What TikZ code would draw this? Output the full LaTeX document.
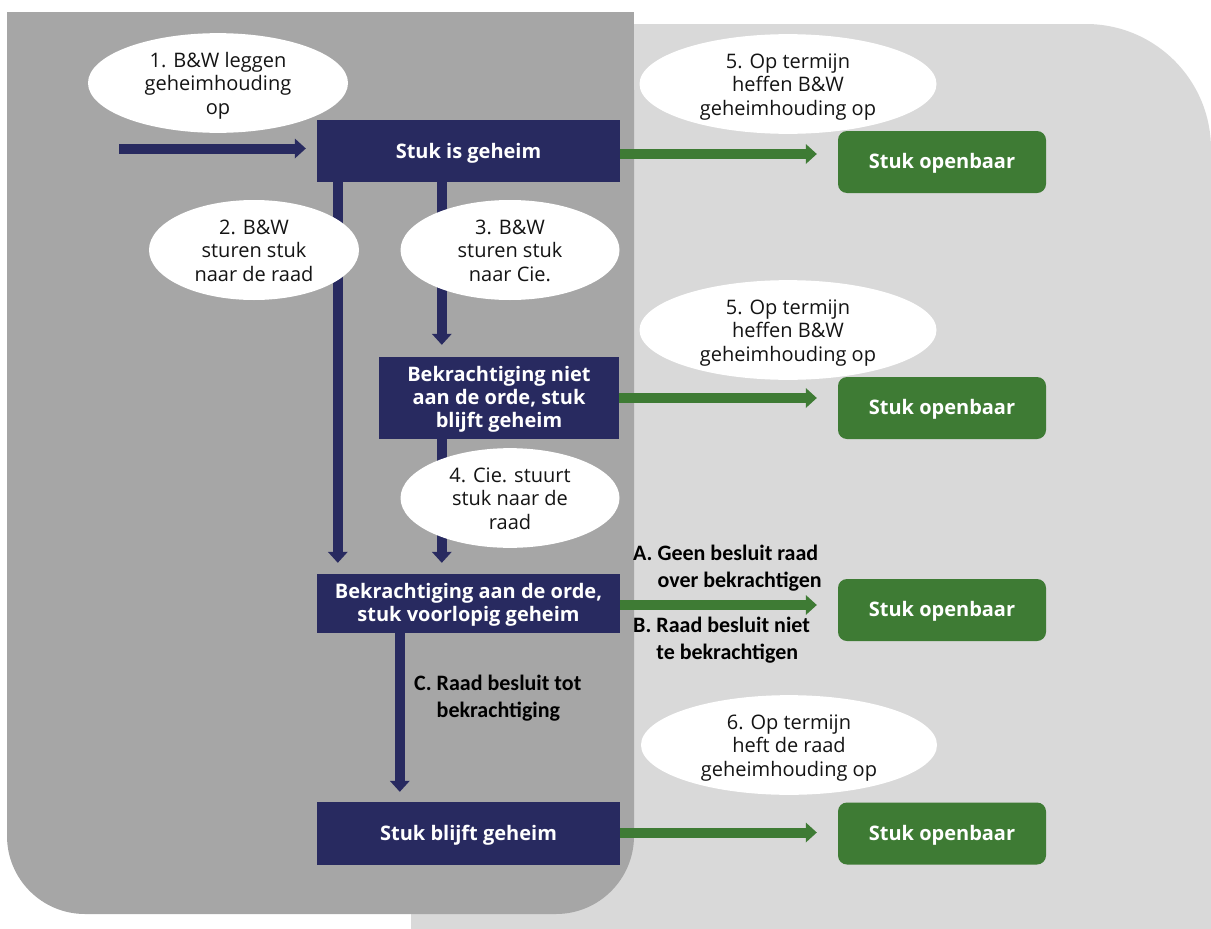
\documentclass[tikz,border=0pt]{standalone}
\usepackage{fontspec}
\setmainfont{Open Sans}
\newfontfamily\lblfont{Carlito}
\usetikzlibrary{shapes.geometric,arrows.meta,calc}
\definecolor{navy}{RGB}{40,42,96}
\definecolor{grn}{RGB}{62,123,52}
\definecolor{dgray}{RGB}{166,166,166}
\definecolor{lgray}{RGB}{217,217,217}
\definecolor{txt}{RGB}{20,20,20}
\newcommand\mltext[2][3pt]{\raisebox{-#1}[\height][\depth]{\begin{tabular}{@{}c@{}}#2\end{tabular}}}
\begin{document}
\begin{tikzpicture}[x=1pt,y=-1pt,
 navybox/.style={fill=navy, text=white, font=\bfseries\fontsize{20}{23}\selectfont, inner sep=0pt, minimum width=303pt},
 greenbox/.style={fill=grn, text=white, rounded corners=9pt, font=\bfseries\fontsize{20}{23}\selectfont, minimum width=208pt, minimum height=62pt, inner sep=0pt},
 bubble/.style={ellipse, fill=white, text=txt, inner sep=0pt, font=\fontsize{20}{23.5}\selectfont},
 narrow/.style={line width=10pt, draw=navy, -{Triangle[width=20pt,length=11pt,line width=0pt]}},
 garrow/.style={line width=10pt, draw=grn, -{Triangle[width=20pt,length=11pt,line width=0pt]}},
 lbl/.style={anchor=base west, inner sep=0pt, text=black, font=\lblfont\bfseries\fontsize{22}{27}\selectfont}
]
\useasboundingbox (0,0) rectangle (1211,929);
\begin{scope}
\clip (0,0) rectangle (1211,929);
\fill[lgray, rounded corners=125pt] (411,24) rectangle (1211,1150);
\fill[dgray, rounded corners=78pt] (7,12) rectangle (634,914);
\fill[dgray] (7,12) rectangle (634,300);
\end{scope}

% boxes
\node[navybox, minimum height=62pt] (s1) at (468.5,151) {\mltext[2.5pt]{Stuk is geheim}};
\node[navybox, minimum width=240pt, minimum height=82pt] (s2) at (499,398) {\mltext[2pt]{Bekrachtiging niet\\aan de orde, stuk\\blijft geheim}};
\node[navybox, minimum height=59pt] (s3) at (468.5,603.5) {\mltext[2pt]{Bekrachtiging aan de orde,\\stuk voorlopig geheim}};
\node[navybox, minimum height=63pt] (s4) at (468.5,833.5) {\mltext[2.5pt]{Stuk blijft geheim}};

\node[greenbox] (g1) at (942,162) {\mltext[2pt]{Stuk openbaar}};
\node[greenbox] (g2) at (942,408) {\mltext[2pt]{Stuk openbaar}};
\node[greenbox] (g3) at (942,610) {\mltext[2pt]{Stuk openbaar}};
\node[greenbox] (g4) at (942,833.5) {\mltext[2pt]{Stuk openbaar}};

% navy arrows
\coordinate (in) at (119,148.5);
\draw[narrow, shorten >=11pt] (in) -- (in -| s1.west);
\draw[narrow, shorten >=11pt] ([xshift=21pt]s1.south west) -- ([xshift=21pt]s1.south west |- s3.north);
\draw[narrow, shorten >=12pt] ([xshift=125pt]s1.south west) -- ([xshift=125pt]s1.south west |- s2.north);
\draw[narrow, shorten >=11pt] ([xshift=63pt]s2.south west) -- ([xshift=63pt]s2.south west |- s3.north);
\draw[narrow, shorten >=10pt] ([xshift=83pt]s3.south west) -- ([xshift=83pt]s3.south west |- s4.north);

% green arrows
\draw[garrow, shorten >=21pt] ([yshift=-3pt]s1.east) -- ([yshift=-3pt]s1.east -| g1.west);
\draw[garrow, shorten >=21pt] (s2.east) -- (s2.east -| g2.west);
\draw[garrow, shorten >=21pt] ([yshift=-1.5pt]s3.east) -- ([yshift=-1.5pt]s3.east -| g3.west);
\draw[garrow, shorten >=21pt] ([yshift=1pt]s4.east) -- ([yshift=1pt]s4.east -| g4.west);

% bubbles
\node[bubble, minimum width=260pt, minimum height=96pt] (b1) at (218,83) {\mltext{1. B\&W leggen\\geheimhouding\\op}};
\node[bubble, minimum width=210pt, minimum height=100pt] (b2) at (254,250) {\mltext{2. B\&W\\sturen stuk\\naar de raad}};
\node[bubble, minimum width=219pt, minimum height=100pt] (b3) at (510,250) {\mltext{3. B\&W\\sturen stuk\\naar Cie.}};
\node[bubble, minimum width=219pt, minimum height=97pt] (b4) at (510,498) {\mltext{4. Cie. stuurt\\stuk naar de\\raad}};
\node[bubble, minimum width=297pt, minimum height=93pt] (b5) at (788,84) {\mltext{5. Op termijn\\heffen B\&W\\geheimhouding op}};
\node[bubble, minimum width=297pt, minimum height=95pt] (b6) at (788,330) {\mltext{5. Op termijn\\heffen B\&W\\geheimhouding op}};
\node[bubble, minimum width=296pt, minimum height=94pt] (b7) at (789,745) {\mltext{6. Op termijn\\heft de raad\\geheimhouding op}};

% labels
\node[lbl] (la) at (633,560) {\begin{tabular}[t]{@{}l@{ }l@{}}A. & Geen besluit raad\\ & over bekrachtigen\end{tabular}};
\node[lbl] (lb) at (633,632) {\begin{tabular}[t]{@{}l@{ }l@{}}B. & Raad besluit niet\\ & te bekrachtigen\end{tabular}};
\node[lbl] (lc) at (414,690) {\begin{tabular}[t]{@{}l@{ }l@{}}C. & Raad besluit tot\\ & bekrachtiging\end{tabular}};
\end{tikzpicture}
\end{document}
